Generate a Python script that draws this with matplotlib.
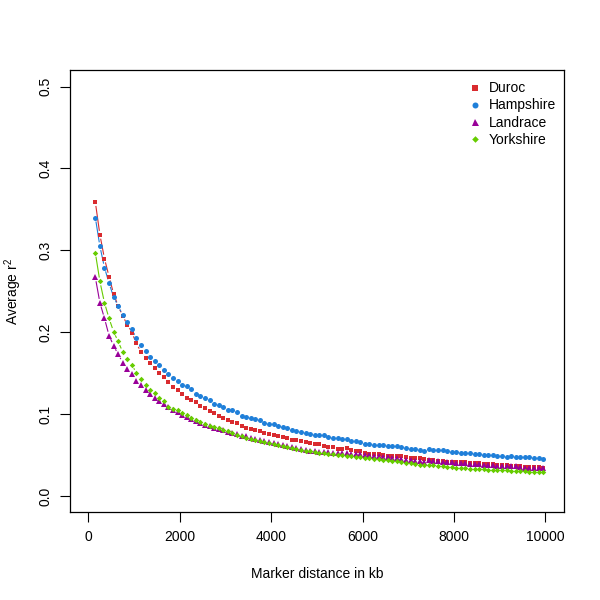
import numpy as np
import matplotlib
matplotlib.use('Agg')
import matplotlib.pyplot as plt

plt.rcParams['font.family'] = ['Liberation Sans', 'DejaVu Sans']
plt.rcParams['mathtext.fontset'] = 'custom'
plt.rcParams['mathtext.rm'] = 'Liberation Sans'
plt.rcParams['mathtext.it'] = 'Liberation Sans'

# marker distance in kb (bin midpoints)
distance = list(range(150, 10000, 100))

duroc = [0.359, 0.319, 0.290, 0.268, 0.247, 0.232, 0.220, 0.209, 0.1994, 0.1864,
         0.1757, 0.169, 0.1628, 0.1562, 0.1506, 0.1452, 0.1388, 0.1335, 0.1294, 0.1245,
         0.120, 0.1168, 0.1143, 0.1098, 0.107, 0.1037, 0.101, 0.0981, 0.0948, 0.0924,
         0.090, 0.089, 0.0859, 0.083, 0.0814, 0.0802, 0.079, 0.0773, 0.0761, 0.0749,
         0.0732, 0.072, 0.0705, 0.069, 0.068, 0.0671, 0.0663, 0.0647, 0.064, 0.0631,
         0.0615, 0.0598, 0.0598, 0.0578, 0.0574, 0.0582, 0.0562, 0.055, 0.055, 0.0525,
         0.0517, 0.0517, 0.0509, 0.0497, 0.0493, 0.0493, 0.0485, 0.0484, 0.0476, 0.046,
         0.0468, 0.0464, 0.0456, 0.0436, 0.0436, 0.0432, 0.0427, 0.042, 0.042, 0.0415,
         0.0415, 0.0415, 0.0407, 0.0403, 0.0399, 0.0395, 0.039, 0.0387, 0.0383, 0.0375,
         0.0375, 0.0371, 0.0366, 0.0371, 0.0354, 0.0354, 0.035, 0.035, 0.0346]

hampshire = [0.340, 0.305, 0.279, 0.260, 0.243, 0.232, 0.221, 0.212, 0.2034, 0.1928,
             0.1839, 0.1774, 0.170, 0.165, 0.1595, 0.1543, 0.1485, 0.144, 0.1408, 0.1351,
             0.1339, 0.1306, 0.125, 0.1222, 0.1192, 0.1168, 0.1128, 0.1115, 0.1086, 0.105,
             0.105, 0.1025, 0.0977, 0.0969, 0.0948, 0.0936, 0.0928, 0.0887, 0.0883, 0.0883,
             0.0859, 0.0845, 0.083, 0.0812, 0.0795, 0.0781, 0.0773, 0.0757, 0.0745, 0.0741,
             0.0741, 0.072, 0.0708, 0.0708, 0.0696, 0.0692, 0.0668, 0.0668, 0.0655, 0.063,
             0.063, 0.0627, 0.0627, 0.0619, 0.061, 0.061, 0.0607, 0.0598, 0.059, 0.057,
             0.0578, 0.0562, 0.0546, 0.0574, 0.0562, 0.0562, 0.0558, 0.0546, 0.0541, 0.0533,
             0.0521, 0.0525, 0.0525, 0.0517, 0.0509, 0.050, 0.050, 0.0497, 0.0493, 0.0488,
             0.048, 0.0484, 0.048, 0.0476, 0.0476, 0.0472, 0.046, 0.046, 0.0452]

landrace = [0.267, 0.236, 0.217, 0.196, 0.1835, 0.173, 0.163, 0.155, 0.149, 0.141,
            0.135, 0.130, 0.1245, 0.120, 0.1155, 0.112, 0.1086, 0.105, 0.102, 0.0993,
            0.0964, 0.094, 0.0915, 0.089, 0.0871, 0.0851, 0.0834, 0.0814, 0.0802, 0.0785,
            0.0773, 0.0752, 0.0736, 0.0728, 0.0704, 0.0696, 0.0684, 0.0672, 0.0656, 0.0647,
            0.0635, 0.0625, 0.061, 0.0598, 0.059, 0.0578, 0.0566, 0.055, 0.055, 0.0541,
            0.0541, 0.0537, 0.0529, 0.0529, 0.0525, 0.0525, 0.0517, 0.0517, 0.0509, 0.0505,
            0.0497, 0.0493, 0.0485, 0.048, 0.0472, 0.0468, 0.046, 0.0452, 0.0436, 0.0444,
            0.0424, 0.0428, 0.042, 0.0436, 0.0424, 0.0424, 0.0415, 0.0415, 0.0411, 0.0407,
            0.0407, 0.0399, 0.0395, 0.039, 0.0387, 0.0383, 0.0379, 0.0375, 0.0371, 0.0366,
            0.0362, 0.0362, 0.0362, 0.0354, 0.0346, 0.0346, 0.0346, 0.0342, 0.0342]

yorkshire = [0.297, 0.262, 0.236, 0.217, 0.2006, 0.1888, 0.1757, 0.1677, 0.1603, 0.150,
             0.1428, 0.136, 0.130, 0.1253, 0.120, 0.1155, 0.109, 0.106, 0.1046, 0.1014,
             0.0985, 0.0957, 0.093, 0.091, 0.088, 0.086, 0.0846, 0.0826, 0.081, 0.079,
             0.0765, 0.075, 0.073, 0.0712, 0.0696, 0.0684, 0.0672, 0.066, 0.0643, 0.0635,
             0.0623, 0.061, 0.0598, 0.0586, 0.0574, 0.0562, 0.0554, 0.0546, 0.0537, 0.0529,
             0.0525, 0.0517, 0.0509, 0.0501, 0.0497, 0.0489, 0.0485, 0.0476, 0.0472, 0.0464,
             0.046, 0.0452, 0.0448, 0.044, 0.0436, 0.0428, 0.0424, 0.0411, 0.0407, 0.0399,
             0.0387, 0.0383, 0.0379, 0.0379, 0.0379, 0.0371, 0.0366, 0.0358, 0.035, 0.0346,
             0.0346, 0.0338, 0.0334, 0.0334, 0.033, 0.0326, 0.0322, 0.0318, 0.0318, 0.0314,
             0.0314, 0.031, 0.031, 0.0305, 0.0305, 0.0293, 0.0293, 0.0297, 0.0293]

breeds = ['Duroc', 'Hampshire', 'Landrace', 'Yorkshire']
series = [duroc, hampshire, landrace, yorkshire]
colors = ['#D92B2F', '#1F7FD9', '#990099', '#66CC00']
markers = ['s', 'o', '^', 'D']
msizes = [3.5, 3.6, 4.2, 2.8]

fig = plt.figure(figsize=(6, 6), dpi=100)
ax = fig.add_axes([0.117, 0.146, 0.8225, 0.737])
ax.set_xlim(-400, 10400)
ax.set_ylim(-0.02, 0.52)
fig.canvas.draw()

# R type="b": line segments with a gap around each point
gap = 4.5
to_data = ax.transData.inverted()
for vals, col in zip(series, colors):
    pts = ax.transData.transform(np.column_stack([distance, vals]))
    for p, q in zip(pts[:-1], pts[1:]):
        d = np.hypot(*(q - p))
        if d > 2 * gap:
            u = (q - p) / d
            a = to_data.transform(p + gap * u)
            b = to_data.transform(q - gap * u)
            ax.plot([a[0], b[0]], [a[1], b[1]], color=col, lw=0.8)

for name, vals, col, m, ms in zip(breeds, series, colors, markers, msizes):
    ax.plot(distance, vals, linestyle='none', marker=m, ms=ms, color=col,
            markeredgewidth=0, label=name)

ax.set_xticks([0, 2000, 4000, 6000, 8000, 10000])
ax.set_yticks([0.0, 0.1, 0.2, 0.3, 0.4, 0.5])
ax.set_yticklabels(['0.0', '0.1', '0.2', '0.3', '0.4', '0.5'], rotation=90, va='center')
ax.tick_params(direction='out', length=7, width=0.8, labelsize=10, pad=6)
for s in ax.spines.values():
    s.set_linewidth(0.9)

ax.set_xlabel('Marker distance in kb', fontsize=10, labelpad=16)
ax.set_ylabel(r'Average r$^{2}$', fontsize=10, labelpad=10)

ax.legend(loc='upper right', bbox_to_anchor=(1.012, 1.006), frameon=False,
          fontsize=10, handlelength=0.8, handletextpad=0.6, labelspacing=0.22,
          borderaxespad=0.6, markerscale=1.2)

fig.savefig('out.png', dpi=100)
